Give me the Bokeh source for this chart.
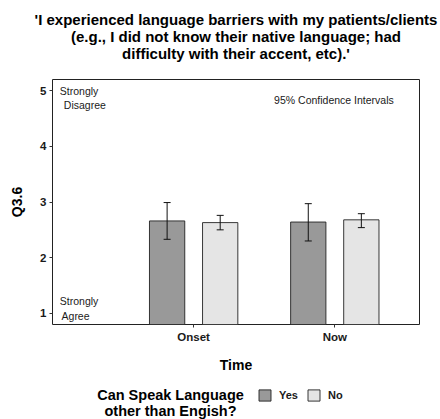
from bokeh.plotting import figure
from bokeh.layouts import column
from bokeh.models import (Range1d, FixedTicker, Label, Whisker, TeeHead, Title,
                          ColumnDataSource, Legend, LegendItem)
from bokeh.core.properties import value
from bokeh.embed import file_html
from bokeh.resources import INLINE

# Survey item Q3.6, mean response with 95% confidence intervals
times = ["Onset", "Now"]
groups = ["Yes", "No"]
means_yes = [2.66, 2.64]
lower_yes = [2.33, 2.30]
upper_yes = [2.99, 2.97]
means_no = [2.63, 2.68]
lower_no = [2.50, 2.54]
upper_no = [2.76, 2.79]
y_ticks = [1, 2, 3, 4, 5]

title_lines = ["'I experienced language barriers with my patients/clients",
               "(e.g., I did not know their native language; had",
               "difficulty with their accent, etc).'"]
legend_title = ["Can Speak Language", "other than Engish?"]

FONT = "Liberation Sans"
fills = {"Yes": "#999999", "No": "#e5e5e5"}
dodge = 0.188
bar_w = 0.25
W = 440
LEFT, RIGHT = 52, 21
MAIN_H, BH = 375, 44

# ---- main panel
p = figure(width=W, height=MAIN_H, output_backend="svg", toolbar_location=None,
           x_range=Range1d(0.0, 2.6), y_range=Range1d(0.8, 5.2),
           min_border_left=LEFT, min_border_right=RIGHT, min_border_top=79,
           min_border_bottom=51)
p.background_fill_color = "white"
p.border_fill_color = "white"
p.outline_line_color = "#222222"
p.outline_line_width = 1
p.xgrid.visible = False
p.ygrid.visible = False

# spacer between the panel and the heading; heading lines stack outward
p.add_layout(Title(text=" ", text_font_size="15.5px", standoff=0), "above")
for line in reversed(title_lines):
    p.add_layout(Title(text=line, align="center",
                       text_font=FONT, text_font_style="bold", text_font_size="15px",
                       text_line_height=1.0, text_color="black", standoff=-2),
                 "above")

for g, m, lo, hi, off in [("Yes", means_yes, lower_yes, upper_yes, -dodge),
                          ("No", means_no, lower_no, upper_no, dodge)]:
    xs = [i + 1 + off for i in range(len(times))]
    src = ColumnDataSource(dict(x=xs, top=m, lower=lo, upper=hi))
    p.vbar(x="x", top="top", bottom=0, width=bar_w, source=src,
           fill_color=fills[g], line_color="#222222", line_width=0.9)
    w = Whisker(base="x", lower="lower", upper="upper", source=src,
                level="overlay", line_color="#111111", line_width=1,
                upper_head=TeeHead(size=7, line_color="#111111", line_width=1),
                lower_head=TeeHead(size=7, line_color="#111111", line_width=1))
    p.add_layout(w)

p.xaxis.ticker = FixedTicker(ticks=[i + 1 for i in range(len(times))])
p.xaxis.major_label_overrides = {i + 1: t for i, t in enumerate(times)}
p.yaxis.ticker = FixedTicker(ticks=y_ticks)
for ax in (p.xaxis[0], p.yaxis[0]):
    ax.axis_line_color = None
    ax.major_tick_line_color = "#333333"
    ax.major_tick_out = 3
    ax.major_tick_in = 0
    ax.minor_tick_line_color = None
    ax.major_label_text_font = FONT
    ax.major_label_text_font_style = "bold"
    ax.major_label_text_font_size = "11.5px"
    ax.major_label_text_color = "#1a1a1a"
    ax.axis_label_text_font = FONT
    ax.axis_label_text_font_style = "bold"
    ax.axis_label_text_font_size = "14px"
    ax.axis_label_text_color = "black"
p.xaxis.axis_label = "Time"
p.xaxis.major_label_standoff = 3
p.xaxis.axis_label_standoff = 11
p.yaxis.axis_label = "Q3.6"
p.yaxis.major_label_standoff = 3
p.yaxis.axis_label_standoff = 12


def note(x, y, text):
    p.add_layout(Label(x=x, y=y, text=text, text_font=FONT, text_font_size="10.5px",
                       text_color="#1a1a1a", text_align="left",
                       text_baseline="middle"))


note(0.052, 5.0, "Strongly")
note(0.08, 4.74, "Disagree")
note(0.052, 1.23, "Strongly")
note(0.064, 0.96, "Agree")
note(1.57, 4.83, "95% Confidence Intervals")

# ---- legend strip: same side borders as the panel, data units equal page pixels
bot = figure(width=W, height=BH, output_backend="svg", toolbar_location=None,
             x_range=Range1d(LEFT, W - RIGHT), y_range=Range1d(BH, 0),
             min_border_left=LEFT, min_border_right=RIGHT, min_border_top=0,
             min_border_bottom=0, x_axis_location=None, y_axis_location=None)
bot.outline_line_color = None
bot.grid.visible = False
bot.background_fill_color = "white"
bot.border_fill_color = "white"
bot.text(x=[170, 170], y=[19, 35.6], text=legend_title,
         text_font=value(FONT), text_font_style="bold", text_font_size="14.5px",
         text_color="black", text_align="center", text_baseline="middle")
keys = []
for g in groups:
    # legend proxy: one undefined point, so only the key swatch is drawn
    r = bot.rect(x=[float("nan")], y=[float("nan")], width=1, height=1,
                 fill_color=fills[g], line_color="#222222", line_width=0.9)
    keys.append(LegendItem(label=g, renderers=[r]))
legend = Legend(items=keys, orientation="horizontal", location=(257 - LEFT, 17.5),
                border_line_color=None, background_fill_alpha=0,
                label_text_font=FONT, label_text_font_style="bold",
                label_text_font_size="11px", label_text_color="#1a1a1a",
                glyph_width=15, glyph_height=14, label_height=14, label_width=20,
                spacing=7, padding=0, margin=0, label_standoff=7)
bot.add_layout(legend)

page = column(p, bot, spacing=0)
open("out.html", "w").write(file_html(page, INLINE))
